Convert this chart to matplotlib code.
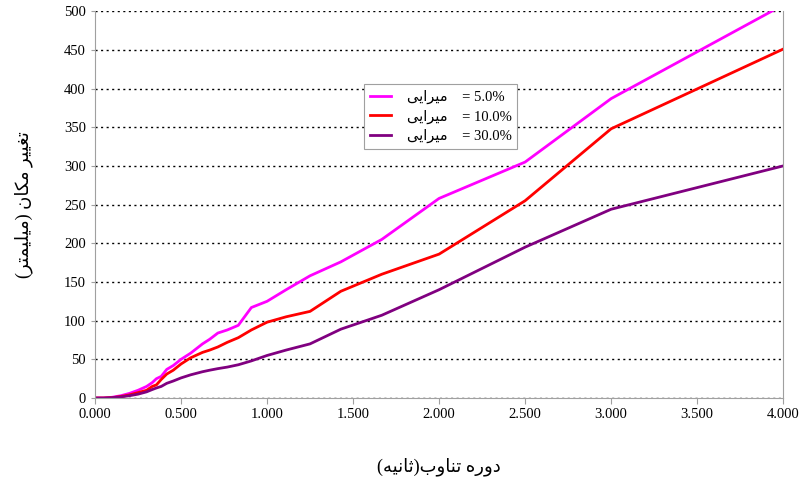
import matplotlib.pyplot as plt

# periods (s) and displacement (mm) for each damping ratio
period = [0.0, 0.05, 0.1, 0.15, 0.2, 0.25, 0.3, 0.333, 0.357, 0.385, 0.417, 0.455, 0.5,
          0.556, 0.625, 0.667, 0.714, 0.769, 0.833, 0.909, 1.0, 1.111, 1.25, 1.429,
          1.667, 2.0, 2.5, 3.0, 4.0]
disp_5 = [0, 0, 1, 3, 6, 10, 15, 20, 25, 28, 37, 42, 50, 58, 70, 76, 84, 88, 94, 117,
          125, 140, 158, 176, 205, 258, 305, 387, 508]
disp_10 = [0, 0, 0.5, 2, 4, 7, 10, 15, 17, 24, 31, 36, 44, 52, 59, 62, 66, 72, 78, 88,
           98, 105, 112, 138, 160, 186, 255, 348, 451]
disp_30 = [0, 0, 0.5, 1.5, 3, 5, 8, 11, 13, 15, 19, 22, 26, 30, 34, 36, 38, 40, 43, 48,
           55, 62, 70, 89, 107, 140, 195, 244, 300]
damping = ["5.0%", "10.0%", "30.0%"]
colors = ["#ff00ff", "#ff0000", "#800080"]
xticks = [0, 0.5, 1, 1.5, 2, 2.5, 3, 3.5, 4]
yticks = list(range(0, 501, 50))

# persian text, pre-shaped and in visual order
word_damp = "\uFEF0\uFEF3\uFE8D\uFEAE\uFEF4\uFEE3"
xlab = "(\uFEEA\uFEF4\uFEE7\uFE8E\uFE9B)\uFE8F\uFEED\uFE8E\uFEE8\uFE97 \uFEE9\uFEAD\uFEED\uFEA9"
ylab = "(\uFEAE\uFE98\uFEE4\uFEF4\uFEE0\uFEF4\uFEE3) \uFEE5\uFE8E\uFEDC\uFEE3 \uFEAE\uFEF4\uFEF4\uFED0\uFE97"

fam = ["Liberation Serif", "DejaVu Sans"]
plt.rcParams['font.family'] = fam

fig = plt.figure(figsize=(8.03, 4.86), dpi=100)
ax = fig.add_axes([0.1183, 0.181, 0.857, 0.796])

for d, c, lab in zip([disp_5, disp_10, disp_30], colors, damping):
    ax.plot(period, d, color=c, lw=2, label=word_damp + "    = " + lab)

ax.set_xlim(0, 4)
ax.set_ylim(0, 500)
ax.set_xticks(xticks)
ax.set_xticklabels(["%.3f" % v for v in xticks], fontsize=10.5)
ax.set_yticks(yticks)
ax.set_yticklabels([str(v) for v in yticks], fontsize=10.5)
ax.yaxis.grid(True, color="black", linestyle=(0, (1.5, 2.5)), lw=1)
ax.set_axisbelow(True)
ax.spines['top'].set_visible(False)
for s in ['left', 'bottom', 'right']:
    ax.spines[s].set_color("#a0a0a0")
ax.tick_params(axis='x', color="#a0a0a0", length=4)
ax.tick_params(axis='y', color="#a0a0a0", length=3)

ax.set_xlabel(xlab, fontsize=13, family=fam, labelpad=26)
ax.set_ylabel(ylab, fontsize=13, family=fam, labelpad=22)

leg = ax.legend(loc="upper left", bbox_to_anchor=(0.381, 0.83), fontsize=10.5,
                frameon=True, fancybox=False, edgecolor="#a0a0a0", framealpha=1,
                handlelength=1.4, handletextpad=1.1, borderpad=0.4, labelspacing=0.35)
leg.get_frame().set_linewidth(0.8)

fig.savefig("out.png", dpi=100)
